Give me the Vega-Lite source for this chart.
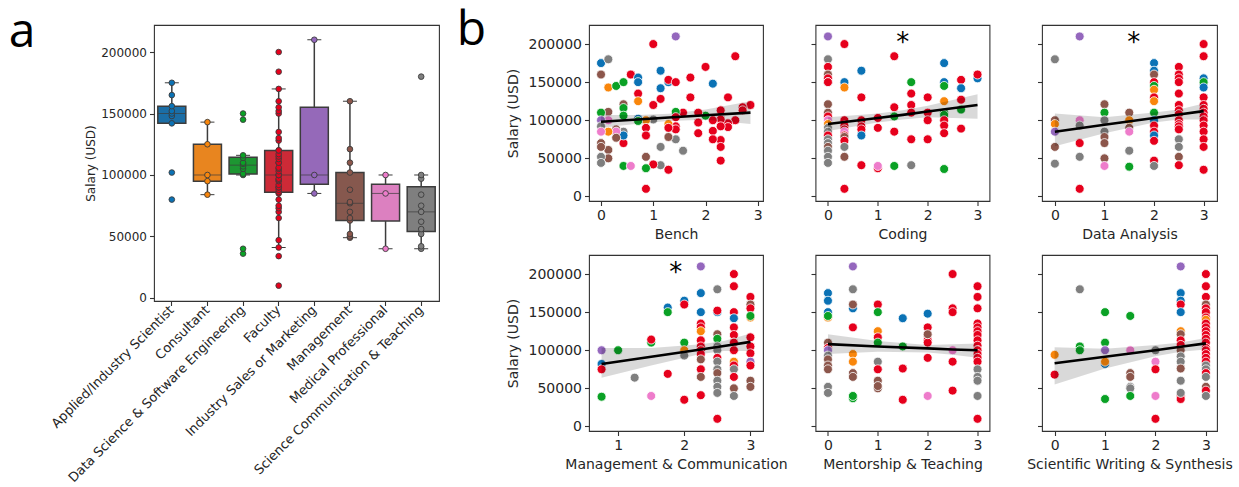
{
"$schema":"https://vega.github.io/schema/vega-lite/v6.json",
"background":"white",
"padding":{"left":8,"top":7,"right":4,"bottom":2},
"config":{"font":"DejaVu Sans","view":{"stroke":"#333333","strokeWidth":1.1},
"axis":{"grid":false,"domain":false,"tickColor":"#333333","tickSize":4.5,"tickWidth":1.1,"labelColor":"#262626","titleColor":"#262626","labelFont":"DejaVu Sans","titleFont":"DejaVu Sans","titleFontWeight":"normal","labelFontSize":14,"titleFontSize":14,"labelPadding":3,"titlePadding":5}},
"resolve":{"scale":{"color":"independent"}},
"datasets":{
"roles":[
{"role":"Applied/Industry Scientist","salary":80000},{"role":"Applied/Industry Scientist","salary":102000},{"role":"Applied/Industry Scientist","salary":142000},{"role":"Applied/Industry Scientist","salary":148000},{"role":"Applied/Industry Scientist","salary":150000},{"role":"Applied/Industry Scientist","salary":152000},{"role":"Applied/Industry Scientist","salary":156000},{"role":"Applied/Industry Scientist","salary":165000},{"role":"Applied/Industry Scientist","salary":175000},
{"role":"Consultant","salary":84000},{"role":"Consultant","salary":95000},{"role":"Consultant","salary":100000},{"role":"Consultant","salary":125000},{"role":"Consultant","salary":143000},
{"role":"Data Science & Software Engineering","salary":36000},{"role":"Data Science & Software Engineering","salary":40000},{"role":"Data Science & Software Engineering","salary":100000},{"role":"Data Science & Software Engineering","salary":101000},{"role":"Data Science & Software Engineering","salary":105000},{"role":"Data Science & Software Engineering","salary":107000},{"role":"Data Science & Software Engineering","salary":109000},{"role":"Data Science & Software Engineering","salary":110000},{"role":"Data Science & Software Engineering","salary":114000},{"role":"Data Science & Software Engineering","salary":116000},{"role":"Data Science & Software Engineering","salary":145000},{"role":"Data Science & Software Engineering","salary":150000},
{"role":"Faculty","salary":10000},{"role":"Faculty","salary":34000},{"role":"Faculty","salary":41000},{"role":"Faculty","salary":47000},{"role":"Faculty","salary":65000},{"role":"Faculty","salary":70000},{"role":"Faculty","salary":73000},{"role":"Faculty","salary":75000},{"role":"Faculty","salary":80000},{"role":"Faculty","salary":85000},{"role":"Faculty","salary":86000},{"role":"Faculty","salary":88000},{"role":"Faculty","salary":90000},{"role":"Faculty","salary":90000},{"role":"Faculty","salary":92000},{"role":"Faculty","salary":95000},{"role":"Faculty","salary":96000},{"role":"Faculty","salary":97000},{"role":"Faculty","salary":100000},{"role":"Faculty","salary":100000},{"role":"Faculty","salary":100000},{"role":"Faculty","salary":103000},{"role":"Faculty","salary":105000},{"role":"Faculty","salary":106000},{"role":"Faculty","salary":110000},{"role":"Faculty","salary":110000},{"role":"Faculty","salary":113000},{"role":"Faculty","salary":115000},{"role":"Faculty","salary":117000},{"role":"Faculty","salary":120000},{"role":"Faculty","salary":120000},{"role":"Faculty","salary":128000},{"role":"Faculty","salary":130000},{"role":"Faculty","salary":135000},{"role":"Faculty","salary":150000},{"role":"Faculty","salary":152000},{"role":"Faculty","salary":155000},{"role":"Faculty","salary":160000},{"role":"Faculty","salary":170000},{"role":"Faculty","salary":184000},{"role":"Faculty","salary":200000},
{"role":"Industry Sales or Marketing","salary":85000},{"role":"Industry Sales or Marketing","salary":100000},{"role":"Industry Sales or Marketing","salary":210000},
{"role":"Management","salary":49000},{"role":"Management","salary":50000},{"role":"Management","salary":52000},{"role":"Management","salary":63000},{"role":"Management","salary":65000},{"role":"Management","salary":70000},{"role":"Management","salary":77000},{"role":"Management","salary":78000},{"role":"Management","salary":88000},{"role":"Management","salary":102000},{"role":"Management","salary":110000},{"role":"Management","salary":121000},{"role":"Management","salary":160000},
{"role":"Medical Professional","salary":40000},{"role":"Medical Professional","salary":85000},{"role":"Medical Professional","salary":100000},
{"role":"Science Communication & Teaching","salary":40000},{"role":"Science Communication & Teaching","salary":42000},{"role":"Science Communication & Teaching","salary":52000},{"role":"Science Communication & Teaching","salary":56000},{"role":"Science Communication & Teaching","salary":62000},{"role":"Science Communication & Teaching","salary":70000},{"role":"Science Communication & Teaching","salary":75000},{"role":"Science Communication & Teaching","salary":84000},{"role":"Science Communication & Teaching","salary":97000},{"role":"Science Communication & Teaching","salary":100000},{"role":"Science Communication & Teaching","salary":180000}
],
"bench":[
{"x":0,"y":175000,"c":"A"},{"x":0.14,"y":180000,"c":"S"},{"x":0,"y":160000,"c":"M"},{"x":0.14,"y":143000,"c":"C"},{"x":0.29,"y":145000,"c":"D"},{"x":0.43,"y":150000,"c":"D"},{"x":0.57,"y":160000,"c":"F"},{"x":0.71,"y":156000,"c":"A"},{"x":0.71,"y":150000,"c":"A"},{"x":0.71,"y":135000,"c":"F"},{"x":0.71,"y":125000,"c":"C"},{"x":1,"y":200000,"c":"F"},{"x":1.14,"y":165000,"c":"A"},{"x":1.14,"y":142000,"c":"A"},{"x":1.14,"y":128000,"c":"F"},{"x":1,"y":120000,"c":"F"},{"x":1.29,"y":150000,"c":"A"},{"x":1.29,"y":153000,"c":"F"},{"x":1.43,"y":150000,"c":"F"},{"x":1.43,"y":210000,"c":"I"},{"x":1.71,"y":156000,"c":"F"},{"x":1.71,"y":130000,"c":"F"},{"x":2,"y":170000,"c":"F"},{"x":2.14,"y":148000,"c":"A"},{"x":2.57,"y":184000,"c":"F"},{"x":2.43,"y":130000,"c":"F"},{"x":2.86,"y":120000,"c":"F"},{"x":2.71,"y":117000,"c":"F"},{"x":2.71,"y":113000,"c":"F"},{"x":2.57,"y":100000,"c":"F"},{"x":2.43,"y":96000,"c":"F"},{"x":2.43,"y":91000,"c":"F"},{"x":2.29,"y":113000,"c":"F"},{"x":2.29,"y":101000,"c":"F"},{"x":2.29,"y":92000,"c":"F"},{"x":2.29,"y":74000,"c":"F"},{"x":2.29,"y":65000,"c":"F"},{"x":2.29,"y":47000,"c":"F"},{"x":2.14,"y":100000,"c":"F"},{"x":2.14,"y":86000,"c":"F"},{"x":2.14,"y":75000,"c":"F"},{"x":2,"y":106000,"c":"D"},{"x":1.86,"y":110000,"c":"F"},{"x":1.86,"y":97000,"c":"F"},{"x":1.86,"y":83000,"c":"F"},{"x":1.57,"y":110000,"c":"F"},{"x":1.43,"y":111000,"c":"D"},{"x":1.43,"y":104000,"c":"F"},{"x":1.43,"y":92000,"c":"F"},{"x":1.43,"y":88000,"c":"F"},{"x":1.43,"y":75000,"c":"S"},{"x":1.57,"y":60000,"c":"S"},{"x":1.29,"y":95000,"c":"C"},{"x":1.29,"y":90000,"c":"F"},{"x":1.29,"y":78000,"c":"M"},{"x":1.29,"y":35000,"c":"F"},{"x":1.14,"y":65000,"c":"S"},{"x":1.14,"y":41000,"c":"S"},{"x":1,"y":42000,"c":"F"},{"x":1,"y":101000,"c":"S"},{"x":0.86,"y":100000,"c":"C"},{"x":0.86,"y":90000,"c":"F"},{"x":0.86,"y":80000,"c":"F"},{"x":0.86,"y":52000,"c":"M"},{"x":0.86,"y":37000,"c":"D"},{"x":0.86,"y":10000,"c":"F"},{"x":0.71,"y":102000,"c":"A"},{"x":0.71,"y":99000,"c":"D"},{"x":0.43,"y":70000,"c":"F"},{"x":0.43,"y":40000,"c":"D"},{"x":0.57,"y":40000,"c":"P"},{"x":0.43,"y":121000,"c":"M"},{"x":0.43,"y":116000,"c":"D"},{"x":0.43,"y":106000,"c":"D"},{"x":0.43,"y":85000,"c":"S"},{"x":0.43,"y":80000,"c":"A"},{"x":0.29,"y":88000,"c":"M"},{"x":0.29,"y":85000,"c":"P"},{"x":0.29,"y":77000,"c":"M"},{"x":0.14,"y":111000,"c":"M"},{"x":0.14,"y":100000,"c":"P"},{"x":0.14,"y":85000,"c":"C"},{"x":0.14,"y":61000,"c":"M"},{"x":0.14,"y":50000,"c":"M"},{"x":0,"y":110000,"c":"D"},{"x":0,"y":100000,"c":"I"},{"x":0,"y":92000,"c":"S"},{"x":0,"y":85000,"c":"P"},{"x":0,"y":70000,"c":"M"},{"x":0,"y":65000,"c":"M"},{"x":0,"y":52000,"c":"S"},{"x":0,"y":44000,"c":"S"}
],
"coding":[
{"x":0,"y":210000,"c":"I"},{"x":0,"y":180000,"c":"S"},{"x":0,"y":170000,"c":"F"},{"x":0,"y":160000,"c":"M"},{"x":0,"y":155000,"c":"F"},{"x":0,"y":150000,"c":"A"},{"x":0,"y":150000,"c":"F"},{"x":0,"y":121000,"c":"M"},{"x":0,"y":110000,"c":"M"},{"x":0,"y":105000,"c":"F"},{"x":0,"y":100000,"c":"P"},{"x":0,"y":95000,"c":"C"},{"x":0,"y":90000,"c":"S"},{"x":0,"y":85000,"c":"S"},{"x":0,"y":80000,"c":"F"},{"x":0,"y":75000,"c":"S"},{"x":0,"y":70000,"c":"S"},{"x":0,"y":65000,"c":"M"},{"x":0,"y":60000,"c":"S"},{"x":0,"y":52000,"c":"S"},{"x":0,"y":44000,"c":"S"},
{"x":0.33,"y":200000,"c":"F"},{"x":0.33,"y":150000,"c":"A"},{"x":0.33,"y":143000,"c":"C"},{"x":0.33,"y":100000,"c":"F"},{"x":0.33,"y":93000,"c":"F"},{"x":0.33,"y":88000,"c":"F"},{"x":0.33,"y":85000,"c":"P"},{"x":0.33,"y":80000,"c":"F"},{"x":0.33,"y":78000,"c":"M"},{"x":0.33,"y":73000,"c":"F"},{"x":0.33,"y":65000,"c":"S"},{"x":0.33,"y":52000,"c":"M"},{"x":0.33,"y":10000,"c":"F"},
{"x":0.67,"y":165000,"c":"A"},{"x":0.67,"y":130000,"c":"F"},{"x":0.67,"y":100000,"c":"F"},{"x":0.67,"y":92000,"c":"F"},{"x":0.67,"y":88000,"c":"F"},{"x":0.67,"y":80000,"c":"A"},{"x":0.67,"y":41000,"c":"F"},
{"x":1,"y":103000,"c":"F"},{"x":1,"y":90000,"c":"F"},{"x":1,"y":37000,"c":"F"},{"x":1,"y":40000,"c":"P"},
{"x":1.33,"y":184000,"c":"F"},{"x":1.33,"y":117000,"c":"F"},{"x":1.33,"y":105000,"c":"D"},{"x":1.33,"y":85000,"c":"F"},{"x":1.33,"y":40000,"c":"D"},
{"x":1.67,"y":150000,"c":"D"},{"x":1.67,"y":135000,"c":"F"},{"x":1.67,"y":120000,"c":"F"},{"x":1.67,"y":110000,"c":"F"},{"x":1.67,"y":75000,"c":"F"},{"x":1.67,"y":41000,"c":"S"},
{"x":2,"y":130000,"c":"F"},{"x":2,"y":110000,"c":"F"},{"x":2,"y":100000,"c":"F"},{"x":2,"y":75000,"c":"F"},
{"x":2.33,"y":175000,"c":"A"},{"x":2.33,"y":150000,"c":"A"},{"x":2.33,"y":145000,"c":"D"},{"x":2.33,"y":125000,"c":"C"},{"x":2.33,"y":110000,"c":"D"},{"x":2.33,"y":107000,"c":"D"},{"x":2.33,"y":100000,"c":"F"},{"x":2.33,"y":93000,"c":"F"},{"x":2.33,"y":83000,"c":"F"},{"x":2.33,"y":36000,"c":"D"},
{"x":2.67,"y":153000,"c":"F"},{"x":2.67,"y":142000,"c":"A"},{"x":2.67,"y":127000,"c":"F"},{"x":2.67,"y":114000,"c":"D"},{"x":2.67,"y":89000,"c":"F"},
{"x":3,"y":155000,"c":"A"},{"x":3,"y":160000,"c":"F"}
],
"data":[
{"x":0,"y":180000,"c":"S"},{"x":0,"y":100000,"c":"M"},{"x":0,"y":95000,"c":"C"},{"x":0,"y":85000,"c":"I"},{"x":0,"y":65000,"c":"M"},{"x":0,"y":43000,"c":"S"},
{"x":0.5,"y":210000,"c":"I"},{"x":0.5,"y":100000,"c":"P"},{"x":0.5,"y":93000,"c":"S"},{"x":0.5,"y":70000,"c":"F"},{"x":0.5,"y":52000,"c":"S"},{"x":0.5,"y":10000,"c":"F"},
{"x":1,"y":121000,"c":"M"},{"x":1,"y":110000,"c":"D"},{"x":1,"y":100000,"c":"S"},{"x":1,"y":85000,"c":"S"},{"x":1,"y":78000,"c":"M"},{"x":1,"y":70000,"c":"M"},{"x":1,"y":50000,"c":"M"},{"x":1,"y":40000,"c":"P"},
{"x":1.5,"y":110000,"c":"M"},{"x":1.5,"y":100000,"c":"C"},{"x":1.5,"y":90000,"c":"M"},{"x":1.5,"y":85000,"c":"P"},{"x":1.5,"y":60000,"c":"S"},{"x":1.5,"y":39000,"c":"D"},
{"x":2,"y":175000,"c":"A"},{"x":2,"y":165000,"c":"A"},{"x":2,"y":160000,"c":"M"},{"x":2,"y":150000,"c":"F"},{"x":2,"y":145000,"c":"D"},{"x":2,"y":140000,"c":"C"},{"x":2,"y":130000,"c":"F"},{"x":2,"y":125000,"c":"C"},{"x":2,"y":110000,"c":"D"},{"x":2,"y":100000,"c":"A"},{"x":2,"y":93000,"c":"F"},{"x":2,"y":85000,"c":"F"},{"x":2,"y":80000,"c":"A"},{"x":2,"y":73000,"c":"F"},{"x":2,"y":47000,"c":"F"},{"x":2,"y":40000,"c":"S"},
{"x":2.5,"y":170000,"c":"F"},{"x":2.5,"y":160000,"c":"F"},{"x":2.5,"y":155000,"c":"F"},{"x":2.5,"y":150000,"c":"F"},{"x":2.5,"y":135000,"c":"F"},{"x":2.5,"y":120000,"c":"F"},{"x":2.5,"y":113000,"c":"F"},{"x":2.5,"y":108000,"c":"F"},{"x":2.5,"y":100000,"c":"F"},{"x":2.5,"y":95000,"c":"F"},{"x":2.5,"y":92000,"c":"F"},{"x":2.5,"y":88000,"c":"F"},{"x":2.5,"y":75000,"c":"S"},{"x":2.5,"y":65000,"c":"S"},{"x":2.5,"y":52000,"c":"M"},{"x":2.5,"y":41000,"c":"F"},
{"x":3,"y":200000,"c":"F"},{"x":3,"y":184000,"c":"F"},{"x":3,"y":155000,"c":"A"},{"x":3,"y":150000,"c":"D"},{"x":3,"y":143000,"c":"A"},{"x":3,"y":130000,"c":"F"},{"x":3,"y":120000,"c":"F"},{"x":3,"y":115000,"c":"F"},{"x":3,"y":110000,"c":"F"},{"x":3,"y":105000,"c":"F"},{"x":3,"y":100000,"c":"F"},{"x":3,"y":93000,"c":"F"},{"x":3,"y":85000,"c":"F"},{"x":3,"y":75000,"c":"F"},{"x":3,"y":65000,"c":"F"},{"x":3,"y":35000,"c":"F"}
],
"mgmt":[
{"x":0.75,"y":100000,"c":"I"},{"x":0.75,"y":82000,"c":"A"},{"x":0.75,"y":75000,"c":"F"},{"x":0.75,"y":39000,"c":"D"},{"x":1,"y":100000,"c":"D"},{"x":1.25,"y":64000,"c":"S"},{"x":1.5,"y":110000,"c":"D"},{"x":1.5,"y":114000,"c":"F"},{"x":1.5,"y":40000,"c":"P"},{"x":1.75,"y":156000,"c":"A"},{"x":1.75,"y":150000,"c":"D"},{"x":1.75,"y":69000,"c":"F"},{"x":2,"y":165000,"c":"A"},{"x":2,"y":160000,"c":"F"},{"x":2,"y":110000,"c":"D"},{"x":2,"y":100000,"c":"C"},{"x":2,"y":93000,"c":"S"},{"x":2,"y":35000,"c":"F"},
{"x":2.25,"y":210000,"c":"I"},{"x":2.25,"y":175000,"c":"A"},{"x":2.25,"y":150000,"c":"A"},{"x":2.25,"y":135000,"c":"F"},{"x":2.25,"y":130000,"c":"F"},{"x":2.25,"y":125000,"c":"C"},{"x":2.25,"y":113000,"c":"F"},{"x":2.25,"y":105000,"c":"F"},{"x":2.25,"y":100000,"c":"F"},{"x":2.25,"y":95000,"c":"F"},{"x":2.25,"y":88000,"c":"M"},{"x":2.25,"y":75000,"c":"F"},{"x":2.25,"y":65000,"c":"M"},{"x":2.25,"y":41000,"c":"F"},
{"x":2.5,"y":180000,"c":"S"},{"x":2.5,"y":150000,"c":"A"},{"x":2.5,"y":152000,"c":"F"},{"x":2.5,"y":121000,"c":"M"},{"x":2.5,"y":115000,"c":"D"},{"x":2.5,"y":105000,"c":"S"},{"x":2.5,"y":100000,"c":"S"},{"x":2.5,"y":90000,"c":"F"},{"x":2.5,"y":85000,"c":"S"},{"x":2.5,"y":75000,"c":"S"},{"x":2.5,"y":70000,"c":"M"},{"x":2.5,"y":60000,"c":"S"},{"x":2.5,"y":52000,"c":"S"},{"x":2.5,"y":44000,"c":"S"},{"x":2.5,"y":10000,"c":"F"},
{"x":2.75,"y":200000,"c":"F"},{"x":2.75,"y":184000,"c":"F"},{"x":2.75,"y":150000,"c":"F"},{"x":2.75,"y":142000,"c":"A"},{"x":2.75,"y":130000,"c":"F"},{"x":2.75,"y":120000,"c":"F"},{"x":2.75,"y":110000,"c":"M"},{"x":2.75,"y":110000,"c":"F"},{"x":2.75,"y":100000,"c":"F"},{"x":2.75,"y":85000,"c":"C"},{"x":2.75,"y":80000,"c":"F"},{"x":2.75,"y":75000,"c":"S"},{"x":2.75,"y":65000,"c":"F"},{"x":2.75,"y":50000,"c":"M"},{"x":2.75,"y":40000,"c":"S"},
{"x":3,"y":170000,"c":"F"},{"x":3,"y":160000,"c":"M"},{"x":3,"y":155000,"c":"F"},{"x":3,"y":143000,"c":"C"},{"x":3,"y":145000,"c":"D"},{"x":3,"y":117000,"c":"F"},{"x":3,"y":105000,"c":"F"},{"x":3,"y":96000,"c":"F"},{"x":3,"y":85000,"c":"I"},{"x":3,"y":80000,"c":"F"},{"x":3,"y":60000,"c":"M"},{"x":3,"y":52000,"c":"M"}
],
"mentor":[
{"x":0,"y":175000,"c":"A"},{"x":0,"y":165000,"c":"A"},{"x":0,"y":150000,"c":"A"},{"x":0,"y":143000,"c":"C"},{"x":0,"y":145000,"c":"D"},{"x":0,"y":110000,"c":"M"},{"x":0,"y":103000,"c":"F"},{"x":0,"y":100000,"c":"I"},{"x":0,"y":93000,"c":"S"},{"x":0,"y":88000,"c":"M"},{"x":0,"y":80000,"c":"M"},{"x":0,"y":75000,"c":"M"},{"x":0,"y":52000,"c":"S"},{"x":0,"y":44000,"c":"S"},
{"x":0.5,"y":210000,"c":"I"},{"x":0.5,"y":180000,"c":"S"},{"x":0.5,"y":155000,"c":"A"},{"x":0.5,"y":160000,"c":"M"},{"x":0.5,"y":130000,"c":"F"},{"x":0.5,"y":95000,"c":"C"},{"x":0.5,"y":85000,"c":"C"},{"x":0.5,"y":70000,"c":"M"},{"x":0.5,"y":65000,"c":"M"},{"x":0.5,"y":37000,"c":"D"},{"x":0.5,"y":40000,"c":"D"},
{"x":1,"y":160000,"c":"F"},{"x":1,"y":150000,"c":"D"},{"x":1,"y":125000,"c":"C"},{"x":1,"y":117000,"c":"F"},{"x":1,"y":110000,"c":"D"},{"x":1,"y":85000,"c":"S"},{"x":1,"y":75000,"c":"F"},{"x":1,"y":60000,"c":"M"},{"x":1,"y":50000,"c":"M"},{"x":1,"y":53000,"c":"M"},
{"x":1.5,"y":142000,"c":"A"},{"x":1.5,"y":105000,"c":"D"},{"x":1.5,"y":76000,"c":"F"},{"x":1.5,"y":35000,"c":"F"},
{"x":2,"y":148000,"c":"A"},{"x":2,"y":130000,"c":"F"},{"x":2,"y":120000,"c":"F"},{"x":2,"y":113000,"c":"F"},{"x":2,"y":110000,"c":"F"},{"x":2,"y":121000,"c":"M"},{"x":2,"y":90000,"c":"F"},{"x":2,"y":40000,"c":"P"},
{"x":2.5,"y":200000,"c":"F"},{"x":2.5,"y":155000,"c":"F"},{"x":2.5,"y":150000,"c":"F"},{"x":2.5,"y":100000,"c":"P"},{"x":2.5,"y":85000,"c":"F"},{"x":2.5,"y":47000,"c":"F"},
{"x":3,"y":184000,"c":"F"},{"x":3,"y":170000,"c":"F"},{"x":3,"y":155000,"c":"F"},{"x":3,"y":135000,"c":"F"},{"x":3,"y":130000,"c":"F"},{"x":3,"y":125000,"c":"F"},{"x":3,"y":120000,"c":"F"},{"x":3,"y":113000,"c":"F"},{"x":3,"y":106000,"c":"F"},{"x":3,"y":100000,"c":"S"},{"x":3,"y":100000,"c":"F"},{"x":3,"y":95000,"c":"F"},{"x":3,"y":90000,"c":"F"},{"x":3,"y":85000,"c":"F"},{"x":3,"y":75000,"c":"S"},{"x":3,"y":65000,"c":"S"},{"x":3,"y":60000,"c":"S"},{"x":3,"y":40000,"c":"S"},{"x":3,"y":10000,"c":"F"}
],
"writing":[
{"x":0,"y":94000,"c":"C"},{"x":0,"y":68000,"c":"F"},{"x":0.5,"y":180000,"c":"S"},{"x":0.5,"y":105000,"c":"D"},{"x":0.5,"y":100000,"c":"D"},{"x":1,"y":150000,"c":"D"},{"x":1,"y":110000,"c":"D"},{"x":1,"y":100000,"c":"I"},{"x":1,"y":82000,"c":"A"},{"x":1,"y":85000,"c":"C"},{"x":1,"y":36000,"c":"D"},{"x":1.5,"y":145000,"c":"D"},{"x":1.5,"y":100000,"c":"P"},{"x":1.5,"y":70000,"c":"M"},{"x":1.5,"y":65000,"c":"M"},{"x":1.5,"y":52000,"c":"S"},{"x":1.5,"y":50000,"c":"S"},{"x":1.5,"y":40000,"c":"D"},{"x":2,"y":100000,"c":"S"},{"x":2,"y":85000,"c":"P"},{"x":2,"y":75000,"c":"F"},{"x":2,"y":40000,"c":"P"},{"x":2,"y":10000,"c":"F"},
{"x":2.5,"y":210000,"c":"I"},{"x":2.5,"y":175000,"c":"A"},{"x":2.5,"y":165000,"c":"A"},{"x":2.5,"y":160000,"c":"F"},{"x":2.5,"y":150000,"c":"A"},{"x":2.5,"y":125000,"c":"C"},{"x":2.5,"y":121000,"c":"M"},{"x":2.5,"y":113000,"c":"F"},{"x":2.5,"y":107000,"c":"F"},{"x":2.5,"y":100000,"c":"M"},{"x":2.5,"y":92000,"c":"S"},{"x":2.5,"y":85000,"c":"S"},{"x":2.5,"y":76000,"c":"M"},{"x":2.5,"y":60000,"c":"S"},{"x":2.5,"y":40000,"c":"F"},{"x":2.5,"y":36000,"c":"F"},{"x":2.5,"y":44000,"c":"S"},
{"x":3,"y":200000,"c":"F"},{"x":3,"y":184000,"c":"F"},{"x":3,"y":170000,"c":"F"},{"x":3,"y":160000,"c":"M"},{"x":3,"y":155000,"c":"F"},{"x":3,"y":150000,"c":"F"},{"x":3,"y":143000,"c":"F"},{"x":3,"y":140000,"c":"C"},{"x":3,"y":135000,"c":"F"},{"x":3,"y":130000,"c":"F"},{"x":3,"y":125000,"c":"F"},{"x":3,"y":120000,"c":"F"},{"x":3,"y":115000,"c":"F"},{"x":3,"y":110000,"c":"F"},{"x":3,"y":103000,"c":"F"},{"x":3,"y":100000,"c":"F"},{"x":3,"y":95000,"c":"F"},{"x":3,"y":90000,"c":"F"},{"x":3,"y":85000,"c":"F"},{"x":3,"y":80000,"c":"S"},{"x":3,"y":75000,"c":"S"},{"x":3,"y":70000,"c":"F"},{"x":3,"y":65000,"c":"S"},{"x":3,"y":52000,"c":"M"},{"x":3,"y":47000,"c":"F"},{"x":3,"y":40000,"c":"S"}
],
"fit":[
{"p":"Bench","x":0,"y":98000,"lo":90000,"hi":107000},{"p":"Bench","x":0.7,"y":101000,"lo":95500,"hi":107000},{"p":"Bench","x":1.3,"y":103500,"lo":99000,"hi":108500},{"p":"Bench","x":2,"y":106500,"lo":100500,"hi":114000},{"p":"Bench","x":2.86,"y":110000,"lo":95000,"hi":125000},
{"p":"Coding","x":0,"y":95000,"lo":86000,"hi":104000},{"p":"Coding","x":1,"y":103000,"lo":97000,"hi":109000},{"p":"Coding","x":1.5,"y":107000,"lo":101000,"hi":113000},{"p":"Coding","x":2,"y":111500,"lo":104000,"hi":119000},{"p":"Coding","x":3,"y":120000,"lo":102000,"hi":134000},
{"p":"DA","x":0,"y":85000,"lo":66000,"hi":109000},{"p":"DA","x":1,"y":94000,"lo":83000,"hi":104000},{"p":"DA","x":2,"y":103000,"lo":97000,"hi":110000},{"p":"DA","x":2.5,"y":107500,"lo":101000,"hi":114000},{"p":"DA","x":3,"y":112000,"lo":101000,"hi":122000},
{"p":"MC","x":0.75,"y":82000,"lo":64000,"hi":103000},{"p":"MC","x":1.5,"y":91500,"lo":80000,"hi":103000},{"p":"MC","x":2.25,"y":101000,"lo":95000,"hi":108000},{"p":"MC","x":2.6,"y":105500,"lo":99000,"hi":112000},{"p":"MC","x":3,"y":111000,"lo":99000,"hi":122000},
{"p":"MT","x":0,"y":108000,"lo":95000,"hi":121000},{"p":"MT","x":1,"y":105000,"lo":98000,"hi":112000},{"p":"MT","x":2,"y":102500,"lo":97000,"hi":107000},{"p":"MT","x":2.5,"y":101000,"lo":94000,"hi":108000},{"p":"MT","x":3,"y":100000,"lo":90000,"hi":109000},
{"p":"SW","x":0,"y":83000,"lo":55000,"hi":104000},{"p":"SW","x":1,"y":91500,"lo":76000,"hi":102000},{"p":"SW","x":2,"y":100000,"lo":92000,"hi":107000},{"p":"SW","x":2.5,"y":104500,"lo":98000,"hi":110000},{"p":"SW","x":3,"y":109000,"lo":101000,"hi":116000}
],
"stars":[{"p":"Coding","x":1.5,"y":191000},{"p":"DA","x":1.59,"y":191000},{"p":"MC","x":1.87,"y":191000}]
},
"hconcat":[
{
"title":{"text":"a","orient":"left","anchor":"end","angle":0,"align":"right","baseline":"alphabetic","fontSize":48,"font":"Open Sans","fontWeight":"normal","color":"#000000","offset":-13,"dy":22},
"width":285,"height":276,
"data":{"name":"roles"},
"layer":[
{"mark":{"type":"boxplot","extent":1.5,"size":28,"outliers":false,"box":{"stroke":"#3c3c3c","strokeWidth":1.5},"median":{"color":"#3c3c3c","strokeWidth":1.5},"rule":{"color":"#3c3c3c","strokeWidth":1.5},"ticks":{"color":"#3c3c3c","size":14,"strokeWidth":1.5}},
"encoding":{
"x":{"field":"role","type":"nominal","title":null,"scale":{"domain":["Applied/Industry Scientist","Consultant","Data Science & Software Engineering","Faculty","Industry Sales or Marketing","Management","Medical Professional","Science Communication & Teaching"],"paddingInner":0,"paddingOuter":0},"axis":{"labelAngle":-45,"labelAlign":"right","labelBaseline":"middle","labelFontSize":13,"labelLimit":400,"labelOverlap":false,"labelPadding":2}},
"y":{"field":"salary","type":"quantitative","title":"Salary (USD)","scale":{"domain":[-2500,222000],"nice":false,"zero":false},"axis":{"values":[0,50000,100000,150000,200000],"format":"d","labelFontSize":12,"titleFontSize":12,"titlePadding":3}},
"color":{"field":"role","type":"nominal","scale":{"domain":["Applied/Industry Scientist","Consultant","Data Science & Software Engineering","Faculty","Industry Sales or Marketing","Management","Medical Professional","Science Communication & Teaching"],"range":["#1b6ea6","#e8851f","#1d9632","#cd2a37","#9569b9","#86584e","#dc80c0","#7f7f7f"]},"legend":null}}},
{"mark":{"type":"circle","size":32,"opacity":1,"stroke":"#3c3c3c","strokeWidth":0.9},
"encoding":{
"x":{"field":"role","type":"nominal","title":null},
"y":{"field":"salary","type":"quantitative","title":"Salary (USD)"},
"fill":{"field":"role","type":"nominal","scale":{"domain":["Applied/Industry Scientist","Consultant","Data Science & Software Engineering","Faculty","Industry Sales or Marketing","Management","Medical Professional","Science Communication & Teaching"],"range":["#0b72b5","#f9860b","#0aa125","#e6001c","#9467bd","#8c564b","#ee7ccb","#7f7f7f"]},"legend":null}}}
]
},
{
"title":{"text":"b","orient":"left","anchor":"end","angle":0,"align":"right","baseline":"alphabetic","fontSize":48,"font":"Open Sans","fontWeight":"normal","color":"#000000","offset":-10,"dy":21},
"columns":3,
"bounds":"flush",
"spacing":{"row":54,"column":52.5},
"concat":[
{"width":174,"height":176,"layer":[
{"data":{"name":"bench"},"mark":{"type":"circle","size":80,"opacity":1,"stroke":"white","strokeWidth":0.8},"encoding":{"x":{"field":"x","type":"quantitative","title":"Bench","scale":{"domain":[-0.23,3.1],"nice":false,"zero":false},"axis":{"values":[0,1,2,3],"format":"d"}},"y":{"field":"y","type":"quantitative","title":"Salary (USD)","scale":{"domain":[-6000,225000],"nice":false,"zero":false},"axis":{"values":[0,50000,100000,150000,200000],"format":"d","titlePadding":8}},"color":{"field":"c","type":"nominal","scale":{"domain":["A","C","D","F","I","M","P","S"],"range":["#0b72b5","#f9860b","#0aa125","#e6001c","#9467bd","#8c564b","#ee7ccb","#7f7f7f"]},"legend":null}}},
{"data":{"name":"fit"},"transform":[{"filter":{"field":"p","equal":"Bench"}}],"mark":{"type":"area","color":"#000000","opacity":0.15},"encoding":{"x":{"field":"x","type":"quantitative","title":"Bench"},"y":{"field":"lo","type":"quantitative","title":"Salary (USD)"},"y2":{"field":"hi"}}},
{"data":{"name":"fit"},"transform":[{"filter":{"field":"p","equal":"Bench"}}],"mark":{"type":"line","color":"#000000","strokeWidth":2.6},"encoding":{"x":{"field":"x","type":"quantitative","title":"Bench"},"y":{"field":"y","type":"quantitative","title":"Salary (USD)"}}}
]},
{"width":174,"height":176,"layer":[
{"data":{"name":"coding"},"mark":{"type":"circle","size":80,"opacity":1,"stroke":"white","strokeWidth":0.8},"encoding":{"x":{"field":"x","type":"quantitative","title":"Coding","scale":{"domain":[-0.25,3.24],"nice":false,"zero":false},"axis":{"values":[0,1,2,3],"format":"d"}},"y":{"field":"y","type":"quantitative","title":null,"scale":{"domain":[-6000,225000],"nice":false,"zero":false},"axis":{"values":[0,50000,100000,150000,200000],"labels":false}},"color":{"field":"c","type":"nominal","scale":{"domain":["A","C","D","F","I","M","P","S"],"range":["#0b72b5","#f9860b","#0aa125","#e6001c","#9467bd","#8c564b","#ee7ccb","#7f7f7f"]},"legend":null}}},
{"data":{"name":"fit"},"transform":[{"filter":{"field":"p","equal":"Coding"}}],"mark":{"type":"area","color":"#000000","opacity":0.15},"encoding":{"x":{"field":"x","type":"quantitative","title":"Coding"},"y":{"field":"lo","type":"quantitative","title":null},"y2":{"field":"hi"}}},
{"data":{"name":"fit"},"transform":[{"filter":{"field":"p","equal":"Coding"}}],"mark":{"type":"line","color":"#000000","strokeWidth":2.6},"encoding":{"x":{"field":"x","type":"quantitative","title":"Coding"},"y":{"field":"y","type":"quantitative","title":null}}},
{"data":{"name":"stars"},"transform":[{"filter":{"field":"p","equal":"Coding"}}],"mark":{"type":"text","text":"*","fontSize":26,"font":"DejaVu Sans","baseline":"alphabetic","color":"#000000"},"encoding":{"x":{"field":"x","type":"quantitative","title":"Coding"},"y":{"field":"y","type":"quantitative","title":null}}}
]},
{"width":175,"height":176,"layer":[
{"data":{"name":"data"},"mark":{"type":"circle","size":80,"opacity":1,"stroke":"white","strokeWidth":0.8},"encoding":{"x":{"field":"x","type":"quantitative","title":"Data Analysis","scale":{"domain":[-0.26,3.27],"nice":false,"zero":false},"axis":{"values":[0,1,2,3],"format":"d"}},"y":{"field":"y","type":"quantitative","title":null,"scale":{"domain":[-6000,225000],"nice":false,"zero":false},"axis":{"values":[0,50000,100000,150000,200000],"labels":false}},"color":{"field":"c","type":"nominal","scale":{"domain":["A","C","D","F","I","M","P","S"],"range":["#0b72b5","#f9860b","#0aa125","#e6001c","#9467bd","#8c564b","#ee7ccb","#7f7f7f"]},"legend":null}}},
{"data":{"name":"fit"},"transform":[{"filter":{"field":"p","equal":"DA"}}],"mark":{"type":"area","color":"#000000","opacity":0.15},"encoding":{"x":{"field":"x","type":"quantitative","title":"Data Analysis"},"y":{"field":"lo","type":"quantitative","title":null},"y2":{"field":"hi"}}},
{"data":{"name":"fit"},"transform":[{"filter":{"field":"p","equal":"DA"}}],"mark":{"type":"line","color":"#000000","strokeWidth":2.6},"encoding":{"x":{"field":"x","type":"quantitative","title":"Data Analysis"},"y":{"field":"y","type":"quantitative","title":null}}},
{"data":{"name":"stars"},"transform":[{"filter":{"field":"p","equal":"DA"}}],"mark":{"type":"text","text":"*","fontSize":26,"font":"DejaVu Sans","baseline":"alphabetic","color":"#000000"},"encoding":{"x":{"field":"x","type":"quantitative","title":"Data Analysis"},"y":{"field":"y","type":"quantitative","title":null}}}
]},
{"width":174,"height":176,"layer":[
{"data":{"name":"mgmt"},"mark":{"type":"circle","size":80,"opacity":1,"stroke":"white","strokeWidth":0.8},"encoding":{"x":{"field":"x","type":"quantitative","title":"Management & Communication","scale":{"domain":[0.56,3.19],"nice":false,"zero":false},"axis":{"values":[1,2,3],"format":"d"}},"y":{"field":"y","type":"quantitative","title":"Salary (USD)","scale":{"domain":[-6000,225000],"nice":false,"zero":false},"axis":{"values":[0,50000,100000,150000,200000],"format":"d","titlePadding":8}},"color":{"field":"c","type":"nominal","scale":{"domain":["A","C","D","F","I","M","P","S"],"range":["#0b72b5","#f9860b","#0aa125","#e6001c","#9467bd","#8c564b","#ee7ccb","#7f7f7f"]},"legend":null}}},
{"data":{"name":"fit"},"transform":[{"filter":{"field":"p","equal":"MC"}}],"mark":{"type":"area","color":"#000000","opacity":0.15},"encoding":{"x":{"field":"x","type":"quantitative","title":"Management & Communication"},"y":{"field":"lo","type":"quantitative","title":"Salary (USD)"},"y2":{"field":"hi"}}},
{"data":{"name":"fit"},"transform":[{"filter":{"field":"p","equal":"MC"}}],"mark":{"type":"line","color":"#000000","strokeWidth":2.6},"encoding":{"x":{"field":"x","type":"quantitative","title":"Management & Communication"},"y":{"field":"y","type":"quantitative","title":"Salary (USD)"}}},
{"data":{"name":"stars"},"transform":[{"filter":{"field":"p","equal":"MC"}}],"mark":{"type":"text","text":"*","fontSize":26,"font":"DejaVu Sans","baseline":"alphabetic","color":"#000000"},"encoding":{"x":{"field":"x","type":"quantitative","title":"Management & Communication"},"y":{"field":"y","type":"quantitative","title":"Salary (USD)"}}}
]},
{"width":174,"height":176,"layer":[
{"data":{"name":"mentor"},"mark":{"type":"circle","size":80,"opacity":1,"stroke":"white","strokeWidth":0.8},"encoding":{"x":{"field":"x","type":"quantitative","title":"Mentorship & Teaching","scale":{"domain":[-0.25,3.24],"nice":false,"zero":false},"axis":{"values":[0,1,2,3],"format":"d"}},"y":{"field":"y","type":"quantitative","title":null,"scale":{"domain":[-6000,225000],"nice":false,"zero":false},"axis":{"values":[0,50000,100000,150000,200000],"labels":false}},"color":{"field":"c","type":"nominal","scale":{"domain":["A","C","D","F","I","M","P","S"],"range":["#0b72b5","#f9860b","#0aa125","#e6001c","#9467bd","#8c564b","#ee7ccb","#7f7f7f"]},"legend":null}}},
{"data":{"name":"fit"},"transform":[{"filter":{"field":"p","equal":"MT"}}],"mark":{"type":"area","color":"#000000","opacity":0.15},"encoding":{"x":{"field":"x","type":"quantitative","title":"Mentorship & Teaching"},"y":{"field":"lo","type":"quantitative","title":null},"y2":{"field":"hi"}}},
{"data":{"name":"fit"},"transform":[{"filter":{"field":"p","equal":"MT"}}],"mark":{"type":"line","color":"#000000","strokeWidth":2.6},"encoding":{"x":{"field":"x","type":"quantitative","title":"Mentorship & Teaching"},"y":{"field":"y","type":"quantitative","title":null}}}
]},
{"width":175,"height":176,"layer":[
{"data":{"name":"writing"},"mark":{"type":"circle","size":80,"opacity":1,"stroke":"white","strokeWidth":0.8},"encoding":{"x":{"field":"x","type":"quantitative","title":"Scientific Writing & Synthesis","scale":{"domain":[-0.25,3.22],"nice":false,"zero":false},"axis":{"values":[0,1,2,3],"format":"d"}},"y":{"field":"y","type":"quantitative","title":null,"scale":{"domain":[-6000,225000],"nice":false,"zero":false},"axis":{"values":[0,50000,100000,150000,200000],"labels":false}},"color":{"field":"c","type":"nominal","scale":{"domain":["A","C","D","F","I","M","P","S"],"range":["#0b72b5","#f9860b","#0aa125","#e6001c","#9467bd","#8c564b","#ee7ccb","#7f7f7f"]},"legend":null}}},
{"data":{"name":"fit"},"transform":[{"filter":{"field":"p","equal":"SW"}}],"mark":{"type":"area","color":"#000000","opacity":0.15},"encoding":{"x":{"field":"x","type":"quantitative","title":"Scientific Writing & Synthesis"},"y":{"field":"lo","type":"quantitative","title":null},"y2":{"field":"hi"}}},
{"data":{"name":"fit"},"transform":[{"filter":{"field":"p","equal":"SW"}}],"mark":{"type":"line","color":"#000000","strokeWidth":2.6},"encoding":{"x":{"field":"x","type":"quantitative","title":"Scientific Writing & Synthesis"},"y":{"field":"y","type":"quantitative","title":null}}}
]}
]
}
],
"spacing":16
}
